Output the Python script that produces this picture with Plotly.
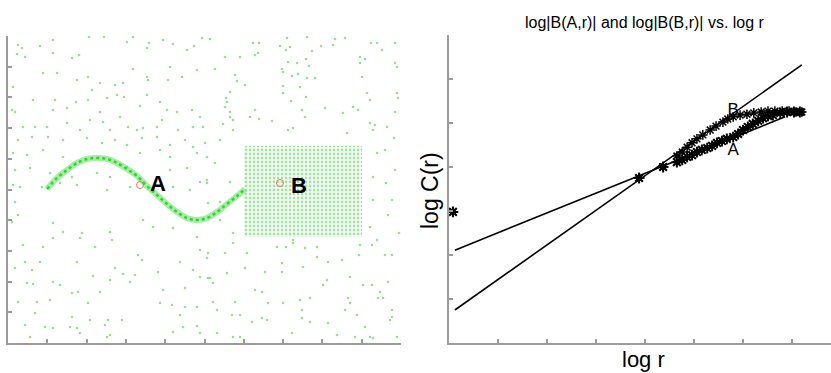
import plotly.graph_objects as go

# ---------------- Left panel (axis units: x 0..393, y 0..307) ----------------
noise_x = [
    10, 14, 9, 17, 32, 45, 45, 64, 71, 81, 96, 119, 125, 139, 141, 155, 165, 179, 186, 194,
    35, 49, 69, 80, 84, 92, 107, 115, 125, 139, 140, 162, 160, 174, 189,
    5, 25, 47, 59, 68, 80, 92, 99, 109, 116, 132, 139, 152, 159, 169, 184, 192,
    4, 7, 15, 27, 39, 45, 59, 72, 82, 95, 102, 112, 120, 129, 135, 149, 154, 170, 185, 195,
    10, 24, 40, 55, 79, 94, 107, 119, 134, 149, 162, 185, 177,
    5, 19, 35, 55, 132, 152, 162, 189, 199,
    7, 22, 42, 64, 89, 102, 119, 162, 179, 192, 199,
    5, 12, 34, 52, 69, 99, 122, 165, 182,
    7, 10, 4, 15, 45, 55, 74, 72, 45, 35, 102, 104, 87, 135, 130, 134, 17, 32, 69, 7, 24,
    19, 25, 45, 52, 64, 70, 92, 107, 115, 122, 127, 102, 85, 150, 155, 172, 177, 192, 200,
    10, 29, 27, 42, 80, 82, 100, 97, 114, 152, 164, 177, 172, 189, 17, 37, 45, 64, 62, 69,
    72, 22, 99, 102, 165, 175, 189, 192, 145, 165, 189, 192, 199, 185,
    202, 217, 207, 232, 227, 229, 237, 222, 218, 219, 217, 222, 222, 215, 225, 245, 251, 250,
    247, 272, 279, 282, 278, 274, 275, 280, 289, 284, 290, 298, 301, 299, 307, 275, 275, 283,
    292, 298, 299, 304, 313, 325, 327, 337, 317, 294, 297, 285, 247, 242, 251, 264, 352, 357,
    352, 354, 363, 369, 374, 387, 387, 389, 345, 350, 335, 359, 362, 387, 389, 362, 367, 379, 390,
    197, 212, 207, 199, 222, 212, 365, 369, 365, 365, 362, 212, 225, 200, 280, 339, 225, 285,
    309, 352, 369,
    200, 217, 239, 269, 278, 297, 320, 334, 351, 364, 377, 384, 225, 285, 202, 205, 219, 237,
    257, 274, 274, 295, 309, 319, 315, 342, 355, 364, 372, 380, 205, 227, 247, 254, 260, 275,
    292, 302, 340, 342, 370, 375, 209, 224, 232, 244, 254, 259, 294, 294, 302, 320, 337, 349,
    357, 384, 382, 384, 209, 225, 232, 284, 329, 347, 362, 365, 389,
    384, 387, 377, 391, 380, 386, 378,
]
noise_y = [
    298, 295, 289, 286, 297, 303, 290, 285, 288, 306, 306, 301, 306, 295, 300, 303, 299, 293, 297, 305,
    270, 270, 263, 266, 253, 260, 258, 260, 274, 266, 263, 276, 263, 266, 273,
    256, 243, 243, 235, 241, 243, 231, 245, 248, 246, 237, 248, 241, 233, 231, 233, 226,
    233, 231, 216, 216, 216, 233, 220, 213, 223, 221, 213, 226, 216, 213, 215, 216, 223, 213, 216, 216,
    203, 206, 206, 203, 205, 200, 203, 198, 205, 206, 198, 196, 203,
    190, 188, 193, 186, 190, 193, 186, 190, 186,
    173, 175, 170, 166, 170, 166, 176, 173, 175, 161, 160,
    158, 156, 156, 160, 158, 153, 156, 156, 153,
    141, 128, 121, 98, 120, 111, 110, 105, 105, 96, 111, 103, 96, 123, 88, 83, 81, 81, 81, 75, 73,
    60, 59, 61, 58, 50, 51, 51, 75, 69, 61, 68, 63, 67, 71, 53, 81, 55, 66, 65,
    41, 41, 30, 43, 40, 23, 23, 18, 23, 40, 38, 36, 28, 36, 18, 16, 15, 26, 16, 15,
    10, 6, 6, 8, 11, 16, 17, 10, 116, 115, 106, 93, 85, 73,
    304, 286, 274, 286, 268, 262, 258, 251, 245, 241, 236, 231, 226, 219, 223, 300, 300, 290,
    288, 297, 305, 296, 293, 274, 271, 281, 280, 267, 269, 284, 277, 265, 265, 257, 250, 242,
    256, 246, 306, 292, 297, 298, 304, 305, 235, 233, 226, 215, 233, 226, 224, 222, 286, 284,
    280, 266, 300, 300, 293, 300, 280, 276, 236, 233, 230, 250, 243, 231, 250, 220, 218, 216, 245,
    200, 203, 180, 163, 161, 141, 213, 190, 166, 143, 116, 123, 110, 140, 213, 210, 213, 100,
    96, 98, 103,
    90, 90, 90, 96, 96, 95, 81, 83, 88, 98, 88, 88, 100, 103, 65, 60, 70, 75,
    71, 80, 71, 76, 86, 63, 58, 66, 58, 58, 51, 61, 41, 41, 53, 51, 40, 40,
    43, 45, 45, 40, 45, 45, 33, 28, 28, 21, 25, 23, 33, 25, 21, 20, 33, 28,
    16, 33, 23, 26, 10, 6, 6, 10, 8, 6, 6, 5, 6,
    143, 173, 193, 110, 128, 205, 160,
]
curve_x = [39, 49, 59, 69, 79, 89, 99, 109, 119, 129, 139, 149, 159, 169, 179, 189, 199, 209, 219, 229, 237]
curve_y = [154, 165, 173, 180, 184, 185, 184, 180, 174, 167, 157, 148, 139, 131, 125, 123, 125, 131, 139, 147, 154]
box_x = [236, 354]
box_y = [106, 197]
probe_x = [132, 272]
probe_y = [158, 160]
left_labels = ["A", "B"]
left_label_x = [150, 291]
left_label_y = [158, 156]

# ---------------- Right panel (log r vs log C(r)) ----------------
a_x = [0.08, 3.88, 4.37, 4.65, 4.76, 4.86, 4.96, 5.06, 5.16, 5.27, 5.37, 5.47, 5.57, 5.67,
       5.80, 5.90, 6.00, 6.10, 6.20, 6.31, 6.41, 6.51, 6.61, 6.76, 6.90, 7.04, 7.16]
a_y = [2.98, 3.75, 4.00, 4.11, 4.16, 4.23, 4.27, 4.34, 4.39, 4.43, 4.48, 4.55, 4.59, 4.64,
       4.68, 4.75, 4.84, 4.91, 4.98, 5.05, 5.11, 5.16, 5.18, 5.23, 5.25, 5.25, 5.25]
b_x = [0.08, 3.88, 4.37, 4.65, 4.76, 4.86, 4.96, 5.06, 5.18, 5.33, 5.45, 5.59, 5.69, 5.80,
       5.94, 6.08, 6.22, 6.37, 6.51, 6.65, 6.80, 6.94, 7.08, 7.20]
b_y = [2.98, 3.75, 4.00, 4.25, 4.34, 4.45, 4.55, 4.64, 4.73, 4.84, 4.93, 5.02, 5.09, 5.14,
       5.18, 5.20, 5.23, 5.25, 5.27, 5.27, 5.27, 5.27, 5.25, 5.25]
fit_shallow_x = [0.12, 6.86]
fit_shallow_y = [2.11, 5.14]
fit_steep_x = [0.12, 7.20]
fit_steep_y = [0.75, 6.32]
right_labels = ["B", "A"]
right_label_x = [5.80, 5.80]
right_label_y = [5.27, 4.36]

FONT = "Liberation Sans, Arial, sans-serif"
AXC = "rgb(155,155,155)"

fig = go.Figure()

# Left panel
fig.add_trace(go.Scatter(x=noise_x, y=noise_y, mode="markers",
                         marker=dict(size=2.6, color="rgba(100,212,100,0.7)", symbol="circle"),
                         xaxis="x", yaxis="y", hoverinfo="skip"))
box_cx = [(box_x[0] + box_x[1]) / 2]
box_h = [box_y[1] - box_y[0]]
box_w = [box_x[1] - box_x[0]]
fig.add_trace(go.Bar(x=box_cx, y=box_h, base=[box_y[0]], width=box_w,
                     marker=dict(color="rgba(140,228,140,0.5)", line=dict(width=0),
                                 pattern=dict(shape=".", fgcolor="rgb(60,205,60)",
                                              bgcolor="rgba(0,0,0,0)", size=4, solidity=0.4,
                                              fillmode="overlay")),
                     xaxis="x", yaxis="y", hoverinfo="skip"))
fig.add_trace(go.Scatter(x=curve_x, y=curve_y, mode="lines", line=dict(color="rgba(90,225,90,0.55)", width=6, shape="spline"),
                         xaxis="x", yaxis="y", hoverinfo="skip"))
fig.add_trace(go.Scatter(x=curve_x, y=curve_y, mode="lines", line=dict(color="rgba(40,205,40,0.9)", width=2.5, dash="dot", shape="spline"),
                         xaxis="x", yaxis="y", hoverinfo="skip"))
fig.add_trace(go.Scatter(x=probe_x, y=probe_y, mode="markers",
                         marker=dict(size=7, symbol="circle-open", color="rgb(225,120,100)", line=dict(width=1)),
                         xaxis="x", yaxis="y", hoverinfo="skip"))
fig.add_trace(go.Scatter(x=left_label_x, y=left_label_y, mode="text", text=left_labels,
                         textfont=dict(family=FONT, size=22, color="black", weight="bold"),
                         xaxis="x", yaxis="y", hoverinfo="skip"))

# Right panel
fig.add_trace(go.Scatter(x=fit_shallow_x, y=fit_shallow_y, mode="lines", line=dict(color="black", width=1.6),
                         xaxis="x2", yaxis="y2", hoverinfo="skip"))
fig.add_trace(go.Scatter(x=fit_steep_x, y=fit_steep_y, mode="lines", line=dict(color="black", width=1.6),
                         xaxis="x2", yaxis="y2", hoverinfo="skip"))
fig.add_trace(go.Scatter(x=a_x, y=a_y, mode="markers",
                         marker=dict(size=9, symbol="asterisk-open", color="black", line=dict(width=2, color="black")),
                         xaxis="x2", yaxis="y2", hoverinfo="skip"))
fig.add_trace(go.Scatter(x=b_x, y=b_y, mode="markers",
                         marker=dict(size=8, symbol="asterisk-open", color="black", line=dict(width=1.5, color="black")),
                         xaxis="x2", yaxis="y2", hoverinfo="skip"))
fig.add_trace(go.Scatter(x=right_label_x, y=right_label_y, mode="text", text=right_labels,
                         textfont=dict(family=FONT, size=17, color="black"),
                         xaxis="x2", yaxis="y2", hoverinfo="skip"))

W, H = 831, 373
axis_common = dict(showline=True, linecolor=AXC, linewidth=2, ticks="inside", ticklen=4,
                   tickcolor=AXC, tickwidth=1.5, showticklabels=False, showgrid=False,
                   zeroline=False, mirror=False)

fig.update_layout(
    width=W, height=H, margin=dict(l=0, r=0, t=0, b=0),
    paper_bgcolor="white", plot_bgcolor="white", showlegend=False, barmode="overlay",
    font=dict(family=FONT, color="black"),
    xaxis=dict(domain=[8 / W, 401 / W], range=[0, 393], tick0=0, dtick=39.3, anchor="y", **axis_common),
    yaxis=dict(domain=[30 / H, 337 / H], range=[0, 307], tick0=0, dtick=30.7, anchor="x", **axis_common),
    xaxis2=dict(domain=[449 / W, 1.0], range=[0, 382 / 49], tick0=0, dtick=1, anchor="y2", **axis_common),
    yaxis2=dict(domain=[30 / H, 338 / H], range=[0, 7], tick0=0, dtick=1, anchor="x2", **axis_common),
    annotations=[
        dict(text="log|B(A,r)| and log|B(B,r)| vs. log r", x=645 / W, y=(H - 22) / H,
             xref="paper", yref="paper", showarrow=False, xanchor="center", yanchor="middle",
             font=dict(family=FONT, size=16, color="black")),
        dict(text="log r", x=643 / W, y=(H - 359) / H, xref="paper", yref="paper", showarrow=False,
             xanchor="center", yanchor="middle", font=dict(family=FONT, size=22, color="black")),
        dict(text="log C(r)", x=430 / W, y=(H - 191) / H, xref="paper", yref="paper", showarrow=False,
             xanchor="center", yanchor="middle", textangle=-90,
             font=dict(family=FONT, size=23, color="black")),
    ],
)

fig.write_html("out.html")
